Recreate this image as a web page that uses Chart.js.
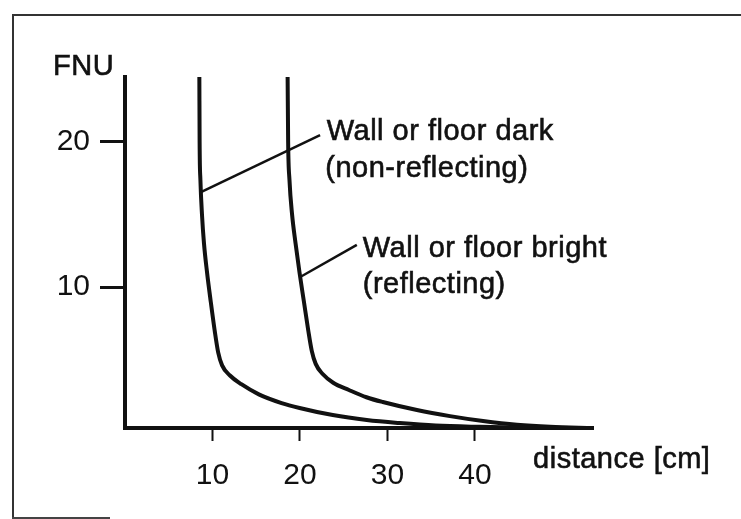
<!DOCTYPE html>
<html>
<head>
<meta charset="utf-8">
<script src="https://cdn.jsdelivr.net/npm/chart.js@4.4.0/dist/chart.umd.min.js"></script>
<style>
  html, body { margin: 0; padding: 0; background: #fff; }
  #wrap { position: relative; width: 741px; height: 519px; overflow: hidden; }
  #frame { position: absolute; left: 12px; top: 14px; width: 800px; height: 503px;
           border-top: 2px solid #333; border-left: 2px solid #333; }
  #frameBottom { position: absolute; left: 12px; top: 517px; width: 98px; border-top: 2px solid #444; }
</style>
</head>
<body>
<div id="wrap">
  <div id="frame"></div>
  <div id="frameBottom"></div>
  <canvas id="myChart"></canvas>
</div>
<script>
// curve: wall or floor dark (non-reflecting)
var darkX = [8.5, 8.53, 8.62, 8.8, 9.03, 9.38, 9.8, 10.25, 10.65, 11.1, 12.0, 13.3, 15.3, 17.9, 19.96, 23.75, 27.64, 31.41, 35.5, 40.5, 46.0, 53.5];
var darkY = [24.48, 20.0, 17.4, 15.0, 13.0, 11.0, 9.0, 7.0, 5.5, 4.6, 3.9, 3.3, 2.6, 2.0, 1.66, 1.17, 0.83, 0.62, 0.45, 0.36, 0.3, 0.28];
// curve: wall or floor bright (reflecting)
var brightX = [18.59, 18.65, 18.8, 19.1, 19.5, 19.95, 20.45, 20.95, 21.35, 21.8, 22.6, 23.8, 25.6, 27.6, 29.47, 33.37, 37.15, 40.93, 44.8, 48.6, 53.5];
var brightY = [24.48, 20.0, 17.4, 15.0, 13.0, 11.0, 9.0, 7.0, 5.6, 4.7, 4.0, 3.4, 2.9, 2.4, 2.07, 1.52, 1.1, 0.76, 0.5, 0.36, 0.28];

var xTicks = [10, 20, 30, 40];
var yTicks = [10, 20];
var yTitle = 'FNU';
var xTitle = 'distance [cm]';

var darkLabel = ['Wall or floor dark', '(non-reflecting)'];
var brightLabel = ['Wall or floor bright', '(reflecting)'];
// leader lines [x1, y1, x2, y2] in data units
var darkLeader = [8.68, 16.55, 22.3, 20.48];
var brightLeader = [20.03, 10.69, 26.5, 12.9];

var ink = '#111';
var fam = '"Liberation Sans", Arial, Helvetica, sans-serif';

function toPoints(xs, ys) {
    return xs.map(function (x, i) { return { x: x, y: ys[i] }; });
}

function heavyText(ctx, txt, x, y) {
    ctx.strokeText(txt, x, y);
    ctx.fillText(txt, x, y);
}

var notesPlugin = {
    id: 'notes',
    afterDatasetsDraw: function (chart) {
        var ctx = chart.ctx;
        var sx = chart.scales.x, sy = chart.scales.y;
        var px = function (v) { return sx.getPixelForValue(v); };
        var py = function (v) { return sy.getPixelForValue(v); };
        ctx.save();
        ctx.strokeStyle = ink;
        ctx.lineWidth = 2.5;
        [darkLeader, brightLeader].forEach(function (l) {
            ctx.beginPath();
            ctx.moveTo(px(l[0]), py(l[1]));
            ctx.lineTo(px(l[2]), py(l[3]));
            ctx.stroke();
        });
        ctx.fillStyle = ink;
        ctx.lineWidth = 0.6;
        ctx.font = '29px ' + fam;
        ctx.letterSpacing = '0.5px';
        ctx.textBaseline = 'alphabetic';
        ctx.textAlign = 'left';
        heavyText(ctx, darkLabel[0], px(23.06), py(20.14));
        heavyText(ctx, darkLabel[1], px(22.9), py(17.59));
        heavyText(ctx, brightLabel[0], px(27.18), py(12.07));
        heavyText(ctx, brightLabel[1], px(27.18), py(9.59));
        // axis titles
        heavyText(ctx, xTitle, px(46.65), py(-2.5));
        heavyText(ctx, yTitle, chart.chartArea.left - 72, chart.chartArea.top - 2);
        ctx.restore();
    }
};

var ctx = document.getElementById('myChart').getContext('2d');
var myChart = new Chart(ctx, {
    type: 'scatter',
    data: {
        datasets: [{
            label: darkLabel.join(' '),
            data: toPoints(darkX, darkY),
            showLine: true,
            borderColor: ink,
            borderWidth: 4,
            pointRadius: 0,
            cubicInterpolationMode: 'monotone',
            clip: false
        }, {
            label: brightLabel.join(' '),
            data: toPoints(brightX, brightY),
            showLine: true,
            borderColor: ink,
            borderWidth: 4,
            pointRadius: 0,
            cubicInterpolationMode: 'monotone',
            clip: false
        }]
    },
    options: {
        responsive: true,
        maintainAspectRatio: false,
        animation: false,
        layout: { padding: { top: 77, right: 148, left: 0, bottom: 0 } },
        plugins: {
            legend: { display: false },
            tooltip: { enabled: false }
        },
        scales: {
            x: {
                type: 'linear',
                min: 0,
                max: 53.5,
                afterBuildTicks: function (s) { s.ticks = xTicks.map(function (v) { return { value: v }; }); },
                afterFit: function (s) { s.height = 91; },
                grid: { drawOnChartArea: false, drawTicks: true, tickLength: 13, tickWidth: 2, tickColor: ink },
                border: { display: true, color: ink, width: 4 },
                ticks: { color: ink, font: { size: 30, family: fam }, padding: 17, maxRotation: 0, autoSkip: false }
            },
            y: {
                type: 'linear',
                min: 0.28,
                max: 24.48,
                afterBuildTicks: function (s) { s.ticks = yTicks.map(function (v) { return { value: v }; }); },
                afterFit: function (s) { s.width = 125; },
                grid: { drawOnChartArea: false, drawTicks: true, tickLength: 25, tickWidth: 3, tickColor: ink },
                border: { display: true, color: ink, width: 4 },
                ticks: { color: ink, font: { size: 30, family: fam }, padding: 10, autoSkip: false }
            }
        }
    },
    plugins: [notesPlugin]
});
</script>
</body>
</html>
